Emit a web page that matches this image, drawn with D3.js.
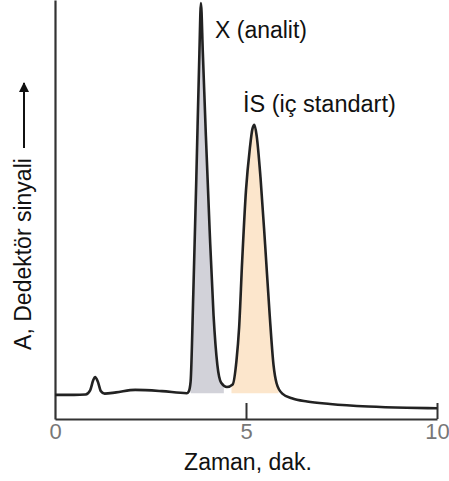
<!DOCTYPE html>
<html>
<head>
<meta charset="utf-8">
<script src="https://d3js.org/d3.v7.min.js"></script>
<style>
  body { margin: 0; background: #fff; }
  svg text { font-family: "Liberation Sans", Arial, sans-serif; }
</style>
</head>
<body>
<div id="chart"></div>
<script>
// Chromatogram: time (min) and detector signal (0-100)
const time = [0, 0.5, 0.8, 0.92, 1.0, 1.05, 1.12, 1.2, 1.3, 1.6, 2.1, 2.8, 3.45, 3.5,
    3.55, 3.62, 3.7, 3.78, 3.82, 3.87, 3.95, 4.05, 4.15, 4.25, 4.35, 4.5, 4.65, 4.75,
    4.82, 4.9, 5.0, 5.1, 5.17, 5.22, 5.28, 5.38, 5.5, 5.62, 5.72, 5.8, 5.95, 6.2,
    6.6, 7.2, 8.2, 9.2, 10];
const signal = [5.8, 5.8, 5.9, 6.9, 9.3, 10.1, 9.0, 6.7, 6.1, 6.4, 7.0, 6.7, 6.2, 6.6,
    9, 30, 58, 88, 100, 88, 68, 45, 25, 13, 8.7, 7.7, 8.3, 14,
    22, 38, 55, 65, 69.8, 70.7, 68, 58, 42, 25, 13, 8.6, 6.1, 5.0,
    4.2, 3.6, 3.0, 2.7, 2.6];
const xTicks = [0, 5, 10];
const peakX = { label: "X (analit)", from: 3.55, to: 4.42 };
const peakIS = { label: "İS (iç standart)", from: 4.62, to: 5.85 };
const fillBase = 6.2;

const W = 449, H = 481;
const svg = d3.select("#chart").append("svg")
    .attr("width", W)
    .attr("height", H);

const x = d3.scaleLinear().domain([0, 10]).range([55, 437]);
const y = d3.scaleLinear().domain([0, 100]).range([419, 3]);

const data = time.map((t, i) => ({ t: t, s: signal[i] }));

// shaded peak areas (clipped to each peak's time window)
const area = d3.area()
    .x(d => x(d.t))
    .y0(y(fillBase))
    .y1(d => Math.min(y(d.s), y(fillBase)))
    .curve(d3.curveMonotoneX);

const defs = svg.append("defs");
[["clipX", peakX], ["clipIS", peakIS]].forEach(([id, p]) => {
    defs.append("clipPath").attr("id", id)
        .append("rect")
        .attr("x", x(p.from))
        .attr("y", 0)
        .attr("width", x(p.to) - x(p.from))
        .attr("height", H);
});

svg.append("path").datum(data)
    .attr("d", area)
    .attr("fill", "#d2d2d9")
    .attr("clip-path", "url(#clipX)");

svg.append("path").datum(data)
    .attr("d", area)
    .attr("fill", "#fce6cc")
    .attr("clip-path", "url(#clipIS)");

// axes
const xAxis = svg.append("g")
    .attr("transform", `translate(0,${y(0)})`)
    .call(d3.axisBottom(x).tickValues(xTicks).tickSize(-16).tickSizeOuter(0).tickPadding(4));
xAxis.select(".domain").attr("stroke", "#333").attr("stroke-width", 2.2);
xAxis.selectAll(".tick line").attr("stroke", "#333").attr("stroke-width", 2);
xAxis.selectAll(".tick").filter(d => d === 0).select("line").remove();
xAxis.selectAll(".tick text")
    .attr("font-size", 22)
    .attr("fill", "#777")
    .style("font-family", "'Liberation Sans', Arial, sans-serif");

const yAxis = svg.append("g")
    .attr("transform", `translate(${x(0)},0)`)
    .call(d3.axisLeft(d3.scaleLinear().range([y(0), 0])).tickValues([]).tickSizeOuter(0));
yAxis.select(".domain").attr("stroke", "#333").attr("stroke-width", 2.2);

// chromatogram line
const line = d3.line()
    .x(d => x(d.t))
    .y(d => y(d.s))
    .curve(d3.curveMonotoneX);

svg.append("path").datum(data)
    .attr("d", line)
    .attr("fill", "none")
    .attr("stroke", "#222")
    .attr("stroke-width", 2.6)
    .attr("stroke-linejoin", "round");

// peak labels
svg.append("text")
    .attr("x", 215).attr("y", 38)
    .attr("font-size", 23)
    .attr("fill", "#111")
    .text(peakX.label);

svg.append("text")
    .attr("x", 243).attr("y", 112)
    .attr("font-size", 23.5)
    .attr("fill", "#111")
    .text(peakIS.label);

// axis titles
svg.append("text")
    .attr("x", 248).attr("y", 470)
    .attr("text-anchor", "middle")
    .attr("font-size", 23)
    .attr("fill", "#111")
    .text("Zaman, dak.");

svg.append("text")
    .attr("transform", "translate(31,254) rotate(-90)")
    .attr("text-anchor", "middle")
    .attr("font-size", 23)
    .attr("fill", "#111")
    .text("A, Dedektör sinyali");

defs.append("marker")
    .attr("id", "arrow")
    .attr("viewBox", "0 0 10 10")
    .attr("refX", 9).attr("refY", 5)
    .attr("markerWidth", 5).attr("markerHeight", 6)
    .attr("orient", "auto")
    .append("path")
    .attr("d", "M0,0 L10,5 L0,10 Z")
    .attr("fill", "#111");

svg.append("line")
    .attr("x1", 24).attr("y1", 148)
    .attr("x2", 24).attr("y2", 83)
    .attr("stroke", "#111")
    .attr("stroke-width", 2)
    .attr("marker-end", "url(#arrow)");
</script>
</body>
</html>
